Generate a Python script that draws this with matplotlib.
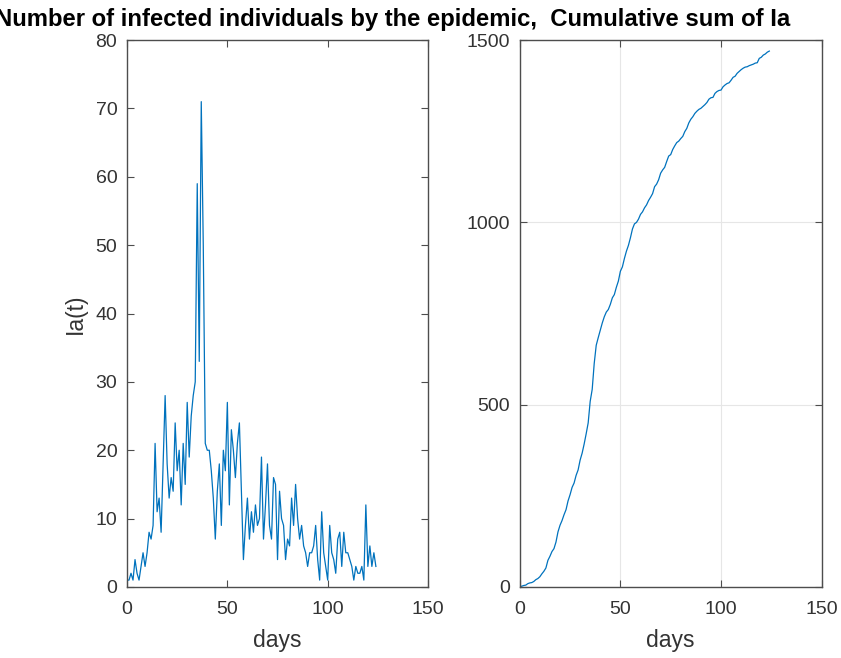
import numpy as np
import matplotlib
matplotlib.use("Agg")
import matplotlib.pyplot as plt

# =========================
# DATA
# =========================
days = np.arange(0, 125)

infected = [
    1, 1, 2, 1, 4, 2, 1, 3, 5, 3,
    5, 8, 7, 9, 21, 11, 13, 8, 18, 28,
    18, 13, 16, 14, 24, 17, 20, 12, 21, 15,
    27, 19, 25, 28, 30, 59, 33, 71, 50, 21,
    20, 20, 17, 13, 7, 14, 18, 9, 20, 17,
    27, 12, 23, 20, 16, 21, 24, 14, 4, 9,
    13, 7, 11, 8, 12, 9, 10, 19, 7, 12,
    18, 9, 7, 16, 15, 4, 14, 10, 9, 4,
    7, 6, 13, 9, 15, 10, 7, 9, 6, 5,
    3, 5, 5, 6, 9, 4, 1, 11, 5, 3,
    1, 9, 5, 4, 2, 7, 8, 3, 8, 5,
    5, 4, 3, 1, 3, 2, 2, 3, 1, 12,
    3, 6, 3, 5, 3,
]

cumulative = np.cumsum(infected)

x_ticks = [0, 50, 100, 150]
left_y_ticks = [0, 10, 20, 30, 40, 50, 60, 70, 80]
right_y_ticks = [0, 500, 1000, 1500]

# =========================
# STYLE
# =========================
plt.rcParams["font.family"] = ["Liberation Sans", "DejaVu Sans"]
line_color = "#0072BD"
frame_color = "0.3"
text_color = "0.2"


def style_axes(ax):
    for s in ax.spines.values():
        s.set_color(frame_color)
        s.set_linewidth(1.0)
    ax.tick_params(direction="in", top=True, right=True, length=5,
                   color=frame_color, labelcolor=text_color, labelsize=14)
    ax.tick_params(axis="x", pad=10)
    ax.tick_params(axis="y", pad=7)


fig = plt.figure(figsize=(8.41, 6.58), dpi=100)

# =========================
# LEFT: daily infected
# =========================
ax1 = fig.add_axes([0.151, 0.108, 0.358, 0.831])
ax1.plot(days, infected, color=line_color, linewidth=0.9)
ax1.set_xlim(0, 150)
ax1.set_ylim(0, 80)
ax1.set_xticks(x_ticks)
ax1.set_yticks(left_y_ticks)
ax1.set_xlabel("days", fontsize=16.5, color=text_color, labelpad=8)
ax1.set_ylabel("Ia(t)", fontsize=16.5, color=text_color, labelpad=6)
style_axes(ax1)

# =========================
# RIGHT: cumulative sum
# =========================
ax2 = fig.add_axes([0.618, 0.108, 0.359, 0.831])
ax2.plot(days, cumulative, color=line_color, linewidth=0.9)
ax2.set_xlim(0, 150)
ax2.set_ylim(0, 1500)
ax2.set_xticks(x_ticks)
ax2.set_yticks(right_y_ticks)
ax2.grid(True, color="0.9", linewidth=0.8)
ax2.set_axisbelow(True)
ax2.set_xlabel("days", fontsize=16.5, color=text_color, labelpad=8)
style_axes(ax2)

fig.text(-0.006, 0.970,
         "Number of infected individuals by the epidemic,  Cumulative sum of Ia",
         ha="left", va="center", fontsize=17.2, fontweight="bold", color="black")

fig.savefig("out.png", dpi=100)
